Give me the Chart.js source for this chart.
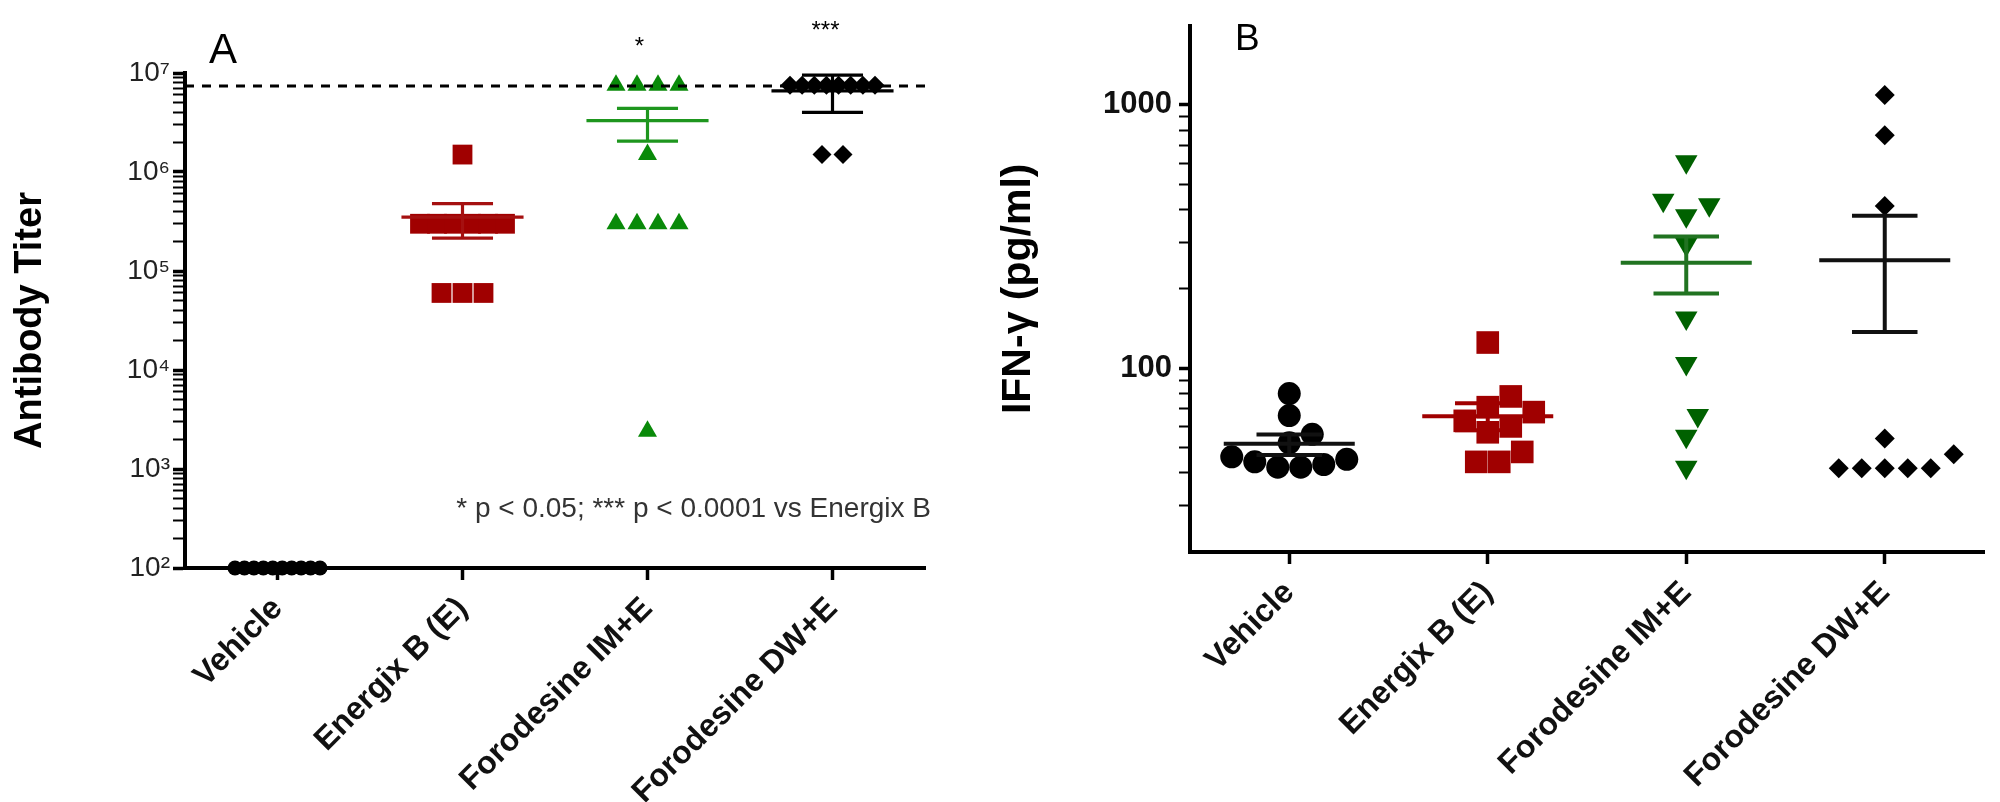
<!DOCTYPE html>
<html><head><meta charset="utf-8">
<script src="https://cdn.jsdelivr.net/npm/chart.js@4.4.1/dist/chart.umd.min.js"></script>
<style>
html,body{margin:0;padding:0;background:#fff;width:2000px;height:802px;overflow:hidden}
#wa{position:absolute;left:0;top:0;width:960px;height:802px}
#wb{position:absolute;left:960px;top:0;width:1040px;height:802px}
</style></head><body>
<div id="wa"><canvas id="ca"></canvas></div>
<div id="wb"><canvas id="cb"></canvas></div>
<script>
// ---------- data ----------
const categories = ['Vehicle', 'Energix B (E)', 'Forodesine IM+E', 'Forodesine DW+E'];

// Panel A: antibody titer
const titerVehicle = [100, 100, 100, 100, 100, 100, 100, 100, 100, 100];
const titerEnergix = [1.5e6, 3e5, 3e5, 3e5, 3e5, 3e5, 3e5, 6e4, 6e4, 6e4];
const titerIM      = [7.5e6, 7.5e6, 7.5e6, 7.5e6, 1.5e6, 3e5, 3e5, 3e5, 3e5, 2.4e3];
const titerDW      = [7.5e6, 7.5e6, 7.5e6, 7.5e6, 7.5e6, 7.5e6, 7.5e6, 7.5e6, 1.5e6, 1.5e6];
const titerMean    = [100, 3.5e5, 3.3e6, 6.6e6];
const titerErrLow  = [100, 2.15e5, 2.05e6, 4.0e6];
const titerErrHigh = [100, 4.8e5, 4.4e6, 9.5e6];
const titerLimit   = 7.4e6;
const titerTickValues = [1e2, 1e3, 1e4, 1e5, 1e6, 1e7];
const titerTickLabels = ['10\u00B2', '10\u00B3', '10\u2074', '10\u2075', '10\u2076', '10\u2077'];
const titerStars   = ['', '', '*', '***'];
const titerNote    = '* p < 0.05; *** p < 0.0001 vs Energix B';

// Panel B: IFN-gamma
const ifnVehicle = [80, 66, 56, 52, 46, 45, 44, 43, 42, 42];
const ifnEnergix = [125, 78, 71, 68, 63, 60, 57, 48, 44, 44];
const ifnIM      = [608, 434, 417, 379, 295, 155, 104, 66, 55, 42];
const ifnDW      = [1089, 766, 413, 54, 47, 41.6, 41.6, 41.6, 41.6, 41.6];
const ifnMean    = [51.6, 65.6, 251, 257];
const ifnErrLow  = [46.7, 58, 192, 137];
const ifnErrHigh = [55.9, 73.5, 316, 379];
const ifnTickValues = [100, 1000];
const ifnTickLabels = ['100', '1000'];

// ---------- helpers ----------
Chart.defaults.color = '#000';
const SANS = '"Liberation Sans", Arial, Helvetica, sans-serif';

function logTicks(min, max, skipEnds) {
  const out = [];
  for (let e = Math.floor(Math.log10(min)); Math.pow(10, e) <= max; e++) {
    for (let k = 1; k <= 9; k++) {
      const v = k * Math.pow(10, e);
      if (v < min || v > max) continue;
      if (skipEnds && (v === min || v === max)) continue;
      out.push(v);
    }
  }
  return out;
}
const isPow10 = v => Math.abs(Math.log10(v) - Math.round(Math.log10(v))) < 1e-9;

function swarmOffsets(ys, vals, spacing, maxWidth, markH) {
  const off = new Array(vals.length).fill(null);
  const placed = [];
  const rows = {};
  vals.forEach((v, i) => { (rows[v] = rows[v] || []).push(i); });
  Object.values(rows).forEach(r => {
    if (r.length < 2) return;
    const s = Math.min(spacing, maxWidth / (r.length - 1));
    r.forEach((i, k) => { off[i] = (k - (r.length - 1) / 2) * s; placed.push(i); });
  });
  const rest = vals.map((v, i) => i).filter(i => off[i] === null).sort((a, b) => ys[b] - ys[a]);
  rest.forEach(i => {
    for (let k = 0; k < 60; k++) {
      const c = (k % 2 ? 1 : -1) * Math.ceil(k / 2) * spacing / 2;
      const hit = placed.some(j => {
        const dx = (c - off[j]) / spacing, dy = (ys[i] - ys[j]) / markH;
        return dx * dx + dy * dy < 0.999;
      });
      if (!hit) { off[i] = c; break; }
    }
    if (off[i] === null) off[i] = 0;
    placed.push(i);
  });
  return off;
}

function errorDatasets(mean, lo, hi, colors, width) {
  const out = [];
  mean.forEach((m, i) => {
    const base = { type: 'scatter', showLine: true, pointRadius: 0, borderColor: colors[i], borderWidth: width, order: 1, clip: false, borderCapStyle: 'butt' };
    out.push({ ...base, data: [{ x: i - 0.33, y: m }, { x: i + 0.33, y: m }] });
    out.push({ ...base, data: [{ x: i, y: lo[i] }, { x: i, y: hi[i] }] });
    out.push({ ...base, data: [{ x: i - 0.165, y: hi[i] }, { x: i + 0.165, y: hi[i] }] });
    out.push({ ...base, data: [{ x: i - 0.165, y: lo[i] }, { x: i + 0.165, y: lo[i] }] });
  });
  return out;
}

const textPlugin = {
  id: 'panelText',
  afterDraw(chart, args, opts) {
    const { ctx, chartArea: ca, scales: { x } } = chart;
    ctx.save();
    (opts.items || []).forEach(t => {
      ctx.font = t.font;
      ctx.fillStyle = t.color || '#000';
      ctx.textAlign = t.align || 'left';
      ctx.textBaseline = 'alphabetic';
      const px = t.cat !== undefined ? x.getPixelForValue(t.cat) + (t.dx || 0) : (t.fromRight ? ca.right + t.dx : ca.left + t.dx);
      ctx.fillText(t.text, px, t.y);
    });
    ctx.restore();
  }
};

function xScale(height) {
  return {
    type: 'linear', min: -0.5, max: 3.5,
    afterBuildTicks: s => { s.ticks = categories.map((c, i) => ({ value: i })); },
    afterFit: s => { s.height = height; },
    ticks: {
      callback: v => categories[v], autoSkip: false, minRotation: 45, maxRotation: 45,
      font: { family: SANS, size: 32, weight: 'bold' }, color: '#111', padding: 10
    },
    grid: { drawOnChartArea: false, drawTicks: true, tickLength: 12, tickWidth: 3.5, tickColor: '#000' },
    border: { display: true, color: '#000', width: 4 }
  };
}

function pointDs(vals, gi, style, radius, color, rotation) {
  return {
    type: 'scatter', data: vals.map(v => ({ x: gi, y: v })),
    pointStyle: style, pointRadius: radius, pointHoverRadius: radius, pointRotation: rotation || 0,
    backgroundColor: color, borderColor: color, borderWidth: 0, order: 2, clip: false
  };
}

// ---------- Panel A ----------
const aGroups = [titerVehicle, titerEnergix, titerIM, titerDW];
const aPoints = [
  pointDs(titerVehicle, 0, 'circle', 7.5, '#000'),
  pointDs(titerEnergix, 1, 'rect', 14, '#A00000'),
  pointDs(titerIM, 2, 'triangle', 11, '#098A09'),
  pointDs(titerDW, 3, 'rectRot', 9.5, '#000')
];
const aLimit = {
  type: 'scatter', showLine: true, pointRadius: 0, borderColor: '#000', borderWidth: 3,
  borderDash: [9, 8], order: 0, clip: false,
  data: [{ x: -0.5, y: titerLimit }, { x: 3.5, y: titerLimit }]
};
const chartA = new Chart(document.getElementById('ca'), {
  type: 'scatter',
  data: { datasets: [...aPoints, ...errorDatasets(titerMean, titerErrLow, titerErrHigh, ['#000', '#A51010', '#1E961E', '#000'], 3.2), aLimit] },
  options: {
    responsive: true, maintainAspectRatio: false, animation: false, devicePixelRatio: 1,
    layout: { padding: { top: 73, right: 35, left: 0, bottom: 0 } },
    plugins: {
      legend: { display: false }, tooltip: { enabled: false },
      panelText: { items: [
        { text: 'A', dx: 24, y: 63, font: '42px ' + SANS },
        { text: titerStars[2], cat: 2, dx: -8, y: 54, align: 'center', font: '24px ' + SANS },
        { text: titerStars[3], cat: 3, dx: -7, y: 38, align: 'center', font: '24px ' + SANS },
        { text: titerNote, fromRight: true, dx: 6, y: 517, align: 'right', font: '28px ' + SANS, color: '#333' }
      ] }
    },
    scales: {
      x: xScale(234),
      y: {
        type: 'logarithmic', min: 100, max: 1e7,
        afterBuildTicks: s => { s.ticks = logTicks(100, 1e7).map(v => ({ value: v, major: isPow10(v) })); },
        afterFit: s => { s.width = 185; },
        ticks: {
          autoSkip: false, padding: 3, color: '#222',
          font: { family: SANS, size: 28 },
          callback: v => { const k = titerTickValues.findIndex(t => Math.abs(t - v) < 1e-6 * t); return k >= 0 ? titerTickLabels[k] : ''; }
        },
        grid: { drawOnChartArea: false, drawTicks: true, tickLength: 12, tickColor: '#000',
          tickWidth: c => (c.tick && isPow10(c.tick.value)) ? 3.5 : 2 },
        border: { display: true, color: '#000', width: 4 },
        title: { display: true, text: 'Antibody Titer', color: '#000', padding: { top: 8 },
          font: { family: SANS, size: 38, weight: 'bold' } }
      }
    }
  },
  plugins: [textPlugin]
});

// ---------- Panel B ----------
const bGroups = [ifnVehicle, ifnEnergix, ifnIM, ifnDW];
const bPoints = [
  pointDs(ifnVehicle, 0, 'circle', 11.5, '#000'),
  pointDs(ifnEnergix, 1, 'rect', 16, '#A00000'),
  pointDs(ifnIM, 2, 'triangle', 13, '#006100', 180),
  pointDs(ifnDW, 3, 'rectRot', 10, '#000')
];
const chartB = new Chart(document.getElementById('cb'), {
  type: 'scatter',
  data: { datasets: [...bPoints, ...errorDatasets(ifnMean, ifnErrLow, ifnErrHigh, ['#111', '#A00000', '#217321', '#111'], 4)] },
  options: {
    responsive: true, maintainAspectRatio: false, animation: false, devicePixelRatio: 1,
    layout: { padding: { top: 12, right: 10, left: 0, bottom: 0 } },
    plugins: {
      legend: { display: false }, tooltip: { enabled: false },
      panelText: { items: [
        { text: 'B', dx: 45, y: 50, font: '37px ' + SANS }
      ] }
    },
    scales: {
      x: xScale(250),
      y: {
        type: 'logarithmic', min: 20, max: 2000,
        afterBuildTicks: s => { s.ticks = logTicks(20, 2000, true).filter(v => v <= 1000).map(v => ({ value: v, major: isPow10(v) })); },
        afterFit: s => { s.width = 230; },
        ticks: {
          autoSkip: false, padding: 7, color: '#111',
          font: { family: SANS, size: 31, weight: 'bold' },
          callback: v => { const k = ifnTickValues.findIndex(t => Math.abs(t - v) < 1e-6 * t); return k >= 0 ? ifnTickLabels[k] : ''; }
        },
        grid: { drawOnChartArea: false, drawTicks: true, tickLength: 11, tickColor: '#000',
          tickWidth: c => (c.tick && isPow10(c.tick.value)) ? 3.5 : 2 },
        border: { display: true, color: '#000', width: 4 },
        title: { display: true, text: 'IFN-\u03B3 (pg/ml)', color: '#000', padding: { top: 34 },
          font: { family: SANS, size: 41, weight: 'bold' } }
      }
    }
  },
  plugins: [textPlugin]
});

// ---------- column-scatter (swarm) layout computed from the scales ----------
function applySwarm(chart, groups, points, spacing, maxWidth, markH) {
  const xs = chart.scales.x, ys = chart.scales.y;
  const band = xs.getPixelForValue(1) - xs.getPixelForValue(0);
  groups.forEach((vals, gi) => {
    const py = vals.map(v => ys.getPixelForValue(v));
    const offs = swarmOffsets(py, vals, spacing, maxWidth, markH);
    points[gi].data = vals.map((v, k) => ({ x: gi + offs[k] / band, y: v }));
  });
  chart.update('none');
}
applySwarm(chartA, aGroups, aPoints, 21, 85, 17);
applySwarm(chartB, bGroups, bPoints, 23, 110, 22);
</script>
</body></html>
